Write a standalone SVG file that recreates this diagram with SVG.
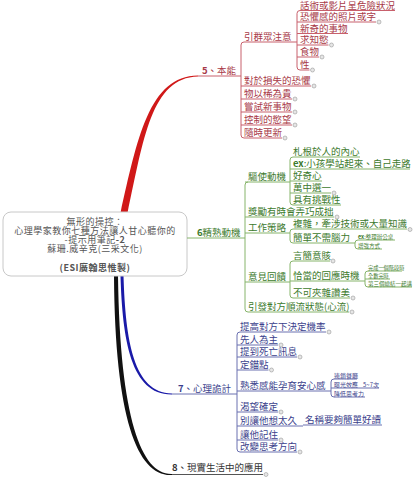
<svg xmlns="http://www.w3.org/2000/svg" width="416" height="480" viewBox="0 0 416 480">
<style>
text{font-family:"Noto Sans CJK TC","Noto Sans CJK JP",sans-serif;font-size:9.5px}
.r{fill:#a83a48}.g{fill:#3c7a2c}.b{fill:#3b3f8c}.k{fill:#333}
.c{fill:#555;font-size:9px;letter-spacing:0.5px}
.sm{font-size:5.5px}.xs{font-size:5.2px}.s6{font-size:6px}
.bd{font-weight:bold}
.lr,.lg,.lb,.lk{fill:none;stroke-width:1}
.lr{stroke:#c8606c}.lg{stroke:#86b46a}.lb{stroke:#6a70b0}.lk{stroke:#555}
.dot{fill:#e6e6e6;stroke:#999;stroke-width:.6}
</style>
<rect width="416" height="480" fill="#fff"/>
<g id="connectors">
<path d="M120.5,213 C137,140 149,75.5 198,75.5 L198,76.5 C151,77.5 143.5,140 127.5,213 Z" fill="#d01818"/>
<path d="M120.5,276 C122.5,340 131,395 172,394.5 L172,393.5 C133.5,393 125.5,340 123.5,276 Z" fill="#1a1aa8"/>
<path d="M114,276 C115,420 138,477 172,475 L172,474 C142,475 120,420 118,276 Z" fill="#111"/>
<path class="lr" d="M244,42 Q241,42 241,45 V135 Q241,138 244,138"/>
<path class="lr" d="M300,10.5 Q297,10.5 297,13.5 V67 Q297,70 300,70"/>
<path class="lg" d="M248,182 Q245,182 245,185 V309 Q245,312 248,312"/>
<path class="lg" d="M293,157 Q290,157 290,160 V202 Q290,205 293,205"/>
<path class="lg" d="M293,229 Q290,229 290,232 V240 Q290,243 293,243"/>
<path class="lg" d="M358,240 Q355,240 355,243 V246 Q355,249 358,249"/>
<path class="lg" d="M293,261 Q290,261 290,264 V295 Q290,298 293,298"/>
<path class="lg" d="M368,271 Q365,271 365,274 V284 Q365,287 368,287"/>
<path class="lb" d="M240,332 Q237,332 237,335 V449 Q237,452 240,452"/>
<path class="lb" d="M334,379 Q331,379 331,382 V394 Q331,397 334,397"/>
</g>
<g id="center">
<rect x="3" y="212" width="184" height="64" rx="8" fill="#fff" stroke="#c8c8c8"/>
<text class="c" x="95" y="224.5" text-anchor="middle">無形的操控：</text>
<text class="c" x="95" y="233.5" text-anchor="middle">心理學家教你七種方法讓人甘心聽你的</text>
<text class="c" x="95" y="242.5" text-anchor="middle">-提示用筆記<tspan class="bd">-2</tspan></text>
<text class="c" x="95" y="251.5" text-anchor="middle">蘇珊.威辛克(三采文化)</text>
<text class="c bd" x="95" y="270.5" text-anchor="middle" letter-spacing="0.2">(ESI廣翰思惟製)</text>
</g>
<g id="n5"><line class="lr" x1="198" y1="76" x2="241" y2="76"/><text class="r" x="202" y="74"><tspan class="bd">5</tspan>、本能</text></g>
<g id="n5-1"><line class="lr" x1="244" y1="42" x2="297" y2="42"/><text class="r" x="244" y="40">引群眾注意</text></g>
<g id="n5-1-1"><line class="lr" x1="300" y1="10.5" x2="395" y2="10.5"/><text class="r" x="300" y="9">話術或影片呈危險狀況</text></g>
<g id="n5-1-2"><line class="lr" x1="297" y1="22" x2="376" y2="22"/><text class="r" x="300" y="20">恐懼感的照片或字</text><circle class="dot" cx="379" cy="22" r="2"/></g>
<g id="n5-1-3"><line class="lr" x1="297" y1="33.5" x2="348" y2="33.5"/><text class="r" x="300" y="31.5">新奇的事物</text></g>
<g id="n5-1-4"><line class="lr" x1="297" y1="45" x2="328.5" y2="45"/><text class="r" x="300" y="43">求知慾</text><circle class="dot" cx="331.5" cy="45" r="2"/></g>
<g id="n5-1-5"><line class="lr" x1="297" y1="57" x2="319" y2="57"/><text class="r" x="300" y="55">食物</text><circle class="dot" cx="322" cy="57" r="2"/></g>
<g id="n5-1-6"><line class="lr" x1="300" y1="70" x2="309.5" y2="70"/><text class="r" x="300" y="68">性</text><circle class="dot" cx="312.5" cy="70" r="2"/></g>
<g id="n5-2"><line class="lr" x1="241" y1="86" x2="311" y2="86"/><text class="r" x="244" y="84">對於損失的恐懼</text><circle class="dot" cx="314" cy="86" r="2"/></g>
<g id="n5-3"><line class="lr" x1="241" y1="99" x2="292" y2="99"/><text class="r" x="244" y="97">物以稀為貴</text><circle class="dot" cx="295" cy="99" r="2"/></g>
<g id="n5-4"><line class="lr" x1="241" y1="112" x2="292" y2="112"/><text class="r" x="244" y="110">嘗試新事物</text><circle class="dot" cx="295" cy="112" r="2"/></g>
<g id="n5-5"><line class="lr" x1="241" y1="125" x2="292" y2="125"/><text class="r" x="244" y="123">控制的慾望</text><circle class="dot" cx="295" cy="125" r="2"/></g>
<g id="n5-6"><line class="lr" x1="244" y1="138" x2="282" y2="138"/><text class="r" x="244" y="136">隨時更新</text><circle class="dot" cx="285" cy="138" r="2"/></g>
<g id="n6"><line class="lg" x1="187" y1="238" x2="245" y2="238"/><text class="g" x="197" y="236"><tspan class="bd">6</tspan>精熟動機</text></g>
<g id="n6-1"><line class="lg" x1="245" y1="182" x2="290" y2="182"/><text class="g" x="248" y="180">驅使動機</text></g>
<g id="n6-1-1"><line class="lg" x1="293" y1="157" x2="360" y2="157"/><text class="g" x="293" y="155">札根於人的內心</text></g>
<g id="n6-1-2"><line class="lg" x1="290" y1="169" x2="410" y2="169"/><text class="g" x="293" y="167"><tspan class="bd">ex</tspan>:小孩學站起來、自己走路</text></g>
<g id="n6-1-3"><line class="lg" x1="290" y1="181" x2="322" y2="181"/><text class="g" x="293" y="179">好奇心</text></g>
<g id="n6-1-4"><line class="lg" x1="290" y1="193" x2="331" y2="193"/><text class="g" x="293" y="191">萬中選一</text><circle class="dot" cx="334" cy="193" r="2"/></g>
<g id="n6-1-5"><line class="lg" x1="293" y1="205" x2="341" y2="205"/><text class="g" x="293" y="203">具有挑戰性</text></g>
<g id="n6-2"><line class="lg" x1="245" y1="217" x2="334" y2="217"/><text class="g" x="248" y="215">獎勵有時會弄巧成拙</text><circle class="dot" cx="337" cy="217" r="2"/></g>
<g id="n6-3"><line class="lg" x1="245" y1="233" x2="290" y2="233"/><text class="g" x="248" y="231">工作策略</text></g>
<g id="n6-3-1"><line class="lg" x1="293" y1="229" x2="407" y2="229"/><text class="g" x="293" y="227">複雜，牽涉技術或大量知識</text><circle class="dot" cx="410" cy="229.5" r="2"/></g>
<g id="n6-3-2"><line class="lg" x1="293" y1="243" x2="355" y2="243"/><text class="g" x="293" y="241">簡單不需腦力</text></g>
<g id="n6-3-2-1"><line class="lg" x1="358" y1="240" x2="395" y2="240"/><text class="g sm" x="358" y="239"><tspan class="bd">ex</tspan>:整理辦公桌</text></g>
<g id="n6-3-2-2"><line class="lg" x1="358" y1="249" x2="382" y2="249"/><text class="g sm" x="358" y="248">增強方式</text></g>
<g id="n6-4"><line class="lg" x1="245" y1="282" x2="290" y2="282"/><text class="g" x="248" y="280">意見回饋</text></g>
<g id="n6-4-1"><line class="lg" x1="293" y1="261" x2="330" y2="261"/><text class="g" x="293" y="259">言簡意賅</text><circle class="dot" cx="333" cy="261" r="2"/></g>
<g id="n6-4-2"><line class="lg" x1="290" y1="281" x2="365" y2="281"/><text class="g" x="293" y="279">恰當的回應時機</text></g>
<g id="n6-4-2-1"><line class="lg" x1="368" y1="271" x2="402" y2="271"/><text class="g xs" x="368" y="270">完成一個階段時</text></g>
<g id="n6-4-2-2"><line class="lg" x1="365" y1="279" x2="390" y2="279"/><text class="g xs" x="368" y="278">全數完時</text></g>
<g id="n6-4-2-3"><line class="lg" x1="368" y1="287" x2="412" y2="287"/><text class="g sm" x="368" y="286">第三個總結一起講</text></g>
<g id="n6-4-3"><line class="lg" x1="293" y1="298" x2="350" y2="298"/><text class="g" x="293" y="296">不可夾雜讚美</text><circle class="dot" cx="353" cy="298" r="2"/></g>
<g id="n6-5"><line class="lg" x1="248" y1="312" x2="349" y2="312"/><text class="g" x="248" y="310">引發對方順流狀態(心流)</text><circle class="dot" cx="352" cy="312" r="2"/></g>
<g id="n7"><line class="lb" x1="172" y1="394" x2="237" y2="394"/><text class="b" x="178" y="392"><tspan class="bd">7</tspan>、心理詭計</text></g>
<g id="n7-1"><line class="lb" x1="240" y1="332" x2="326" y2="332"/><text class="b" x="240" y="330">提高對方下決定機率</text><circle class="dot" cx="329" cy="332" r="2"/></g>
<g id="n7-2"><line class="lb" x1="237" y1="345" x2="278" y2="345"/><text class="b" x="240" y="343">先人為主</text><circle class="dot" cx="281" cy="345" r="2"/></g>
<g id="n7-3"><line class="lb" x1="237" y1="357" x2="297" y2="357"/><text class="b" x="240" y="355">提到死亡訊息</text><circle class="dot" cx="300" cy="357" r="2"/></g>
<g id="n7-4"><line class="lb" x1="237" y1="370" x2="268.5" y2="370"/><text class="b" x="240" y="368">定錨點</text><circle class="dot" cx="271.5" cy="370" r="2"/></g>
<g id="n7-5"><line class="lb" x1="237" y1="391" x2="331" y2="391"/><text class="b" x="240" y="389">熟悉感能孕育安心感</text></g>
<g id="n7-5-1"><line class="lb" x1="334" y1="379" x2="357" y2="379"/><text class="b s6" x="334" y="378">連鎖餐廳</text></g>
<g id="n7-5-2"><line class="lb" x1="331" y1="388" x2="362" y2="388"/><text class="b s6" x="334" y="387">曝光效應</text></g>
<g id="n7-5-2-1"><line class="lb" x1="362" y1="388" x2="379" y2="388"/><text class="b s6" x="363" y="387">5~7次</text></g>
<g id="n7-5-3"><line class="lb" x1="334" y1="397" x2="365" y2="397"/><text class="b s6" x="334" y="396">降低思考力</text></g>
<g id="n7-6"><line class="lb" x1="237" y1="412" x2="278" y2="412"/><text class="b" x="240" y="410">渴望確定</text><circle class="dot" cx="281" cy="412" r="2"/></g>
<g id="n7-7"><line class="lb" x1="237" y1="426" x2="303" y2="426"/><text class="b" x="240" y="424">別讓他想太久</text></g>
<g id="n7-7-1"><line class="lb" x1="303" y1="425" x2="382" y2="425"/><text class="b" x="305" y="423">名稱要夠簡單好讀</text></g>
<g id="n7-8"><line class="lb" x1="237" y1="440" x2="278" y2="440"/><text class="b" x="240" y="438">讓他記住</text><circle class="dot" cx="281" cy="440" r="2"/></g>
<g id="n7-9"><line class="lb" x1="240" y1="452" x2="297" y2="452"/><text class="b" x="240" y="450">改變思考方向</text><circle class="dot" cx="300" cy="452" r="2"/></g>
<g id="n8"><line class="lk" x1="172" y1="474.5" x2="263" y2="474.5"/><text class="k" x="172" y="471"><tspan class="bd">8</tspan>、現實生活中的應用</text><circle class="dot" cx="266" cy="474.5" r="2"/></g>
</svg>
